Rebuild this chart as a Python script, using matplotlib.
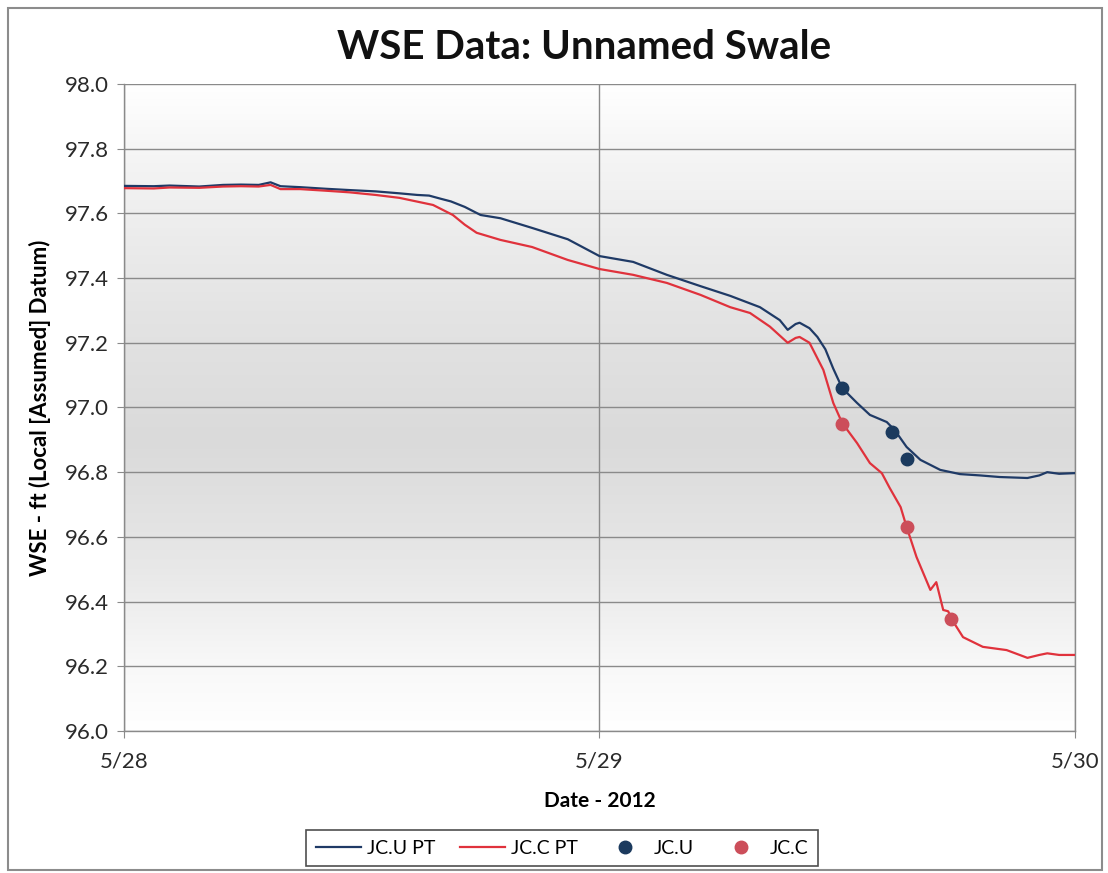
import numpy as np
import matplotlib
matplotlib.use("Agg")
import matplotlib.pyplot as plt
from matplotlib.colors import LinearSegmentedColormap
from matplotlib.patches import Rectangle

plt.rcParams['font.family'] = ['Lato', 'DejaVu Sans']

# Pressure-transducer records (hours after 5/28 00:00, WSE in ft)
ju_hours = [0, 1.5, 2.3, 3.8, 5.0, 5.9, 6.8, 7.4, 7.9, 8.9, 10.2, 11.4, 12.7, 13.9,
            14.8, 15.4, 16.0, 16.5, 17.2, 18.0, 19.0, 20.6, 22.4, 24.0, 25.7,
            27.4, 29.1, 30.6, 32.1, 33.1, 33.5, 33.9, 34.1, 34.6, 35.0, 35.4,
            35.8, 36.25, 37.0, 37.65, 38.5, 38.9, 39.5, 40.2, 41.2, 42.2,
            43.2, 44.2, 45.6, 46.2, 46.6, 47.2, 48.0]
ju_wse = [97.685, 97.684, 97.686, 97.683, 97.688, 97.689, 97.688, 97.696, 97.684,
          97.681, 97.676, 97.672, 97.668, 97.662, 97.657, 97.655, 97.645, 97.637,
          97.620, 97.595, 97.585, 97.555, 97.520, 97.468, 97.450, 97.410, 97.375,
          97.345, 97.310, 97.270, 97.240, 97.258, 97.262, 97.245, 97.218, 97.180,
          97.120, 97.060, 97.014, 96.977, 96.955, 96.930, 96.878, 96.838, 96.807,
          96.794, 96.790, 96.785, 96.782, 96.790, 96.800, 96.795, 96.797]

jc_hours = [0, 1.5, 2.3, 3.8, 5.0, 5.9, 6.8, 7.4, 7.9, 8.9, 10.2, 11.4, 12.7, 13.9,
            15.6, 16.6, 17.2, 17.8, 19.0, 20.6, 22.4, 24.0, 25.7, 27.4, 29.1,
            30.6, 31.6, 32.6, 33.5, 33.9, 34.1, 34.6, 35.3, 35.8, 36.25, 37.0,
            37.65, 38.25, 38.65, 39.2, 39.5, 40.0, 40.7, 41.0, 41.35, 41.6, 41.8,
            42.35, 43.35, 44.55, 45.6, 46.2, 46.6, 47.2, 48.0]
jc_wse = [97.678, 97.677, 97.680, 97.679, 97.683, 97.684, 97.683, 97.688, 97.675,
          97.675, 97.670, 97.665, 97.657, 97.648, 97.626, 97.595, 97.565, 97.540,
          97.518, 97.496, 97.456, 97.428, 97.410, 97.385, 97.348, 97.310, 97.292,
          97.250, 97.200, 97.215, 97.218, 97.200, 97.116, 97.014, 96.952, 96.890,
          96.828, 96.797, 96.751, 96.692, 96.631, 96.538, 96.436, 96.460, 96.374,
          96.370, 96.343, 96.290, 96.260, 96.250, 96.226, 96.235, 96.240, 96.235,
          96.235]

# Manual survey shots
ju_obs_hours = [36.25, 38.75, 39.5]
ju_obs_wse = [97.06, 96.925, 96.84]
jc_obs_hours = [36.25, 39.5, 41.75]
jc_obs_wse = [96.95, 96.63, 96.345]

x_tick_hours = [0, 24, 48]
x_tick_labels = ['5/28', '5/29', '5/30']
y_ticks = [96.0, 96.2, 96.4, 96.6, 96.8, 97.0, 97.2, 97.4, 97.6, 97.8, 98.0]

fig = plt.figure(figsize=(11.08, 8.73), dpi=100)
fig.patch.set_facecolor('white')
fig.add_artist(Rectangle((0.007, 0.004), 0.988, 0.987, transform=fig.transFigure,
                         fill=False, edgecolor='#8c8c8c', linewidth=1.5))

ax = fig.add_axes([0.1119, 0.1627, 0.8583, 0.7411])

# vertical gradient fill of the plot area
grad = LinearSegmentedColormap.from_list(
    'bg', [(0.0, '#ffffff'), (0.12, '#f4f4f4'), (0.35, '#e4e4e4'),
           (0.55, '#dadada'), (0.75, '#e8e8e8'), (0.9, '#f8f8f8'), (1.0, '#ffffff')])
ax.imshow(np.linspace(0, 1, 256).reshape(-1, 1), cmap=grad, aspect='auto',
          extent=[0, 1, 0, 1], transform=ax.transAxes, zorder=0, origin='upper')

ax.set_xlim(0, 48)
ax.set_ylim(96.0, 98.0)
ax.set_yticks(y_ticks)
ax.set_yticklabels([f'{v:.1f}' for v in y_ticks])
ax.set_xticks(x_tick_hours)
ax.set_xticklabels(x_tick_labels)

ax.grid(True, color='#8a8a8a', linewidth=1.0, zorder=1)
for s in ax.spines.values():
    s.set_color('#8a8a8a')
    s.set_linewidth(1.0)
ax.spines['top'].set_visible(False)

ax.tick_params(axis='y', length=5, color='#8a8a8a', labelsize=16, labelcolor='#2a2a2a', pad=6)
ax.tick_params(axis='x', length=5, color='#8a8a8a', labelsize=16, labelcolor='#2a2a2a', pad=10)

ax.plot(ju_hours, ju_wse, color='#1f3a66', linewidth=1.6, label='JC.U PT', zorder=3)
ax.plot(jc_hours, jc_wse, color='#e0323c', linewidth=1.6, label='JC.C PT', zorder=3)
ax.plot(ju_obs_hours, ju_obs_wse, 'o', color='#1b3a5e', markersize=9, label='JC.U', zorder=4)
ax.plot(jc_obs_hours, jc_obs_wse, 'o', color='#cc4e5a', markersize=9, label='JC.C', zorder=4)

ax.set_ylabel('WSE - ft (Local [Assumed] Datum)', fontsize=16, fontweight='bold', labelpad=10)
ax.set_xlabel('Date - 2012', fontsize=15, fontweight='bold', labelpad=14)
fig.text(0.527, 0.946, 'WSE Data: Unnamed Swale', ha='center', va='center',
         fontsize=29, fontweight='bold', color='#111111')

leg = ax.legend(loc='upper center', bbox_to_anchor=(0.4606, -0.138), ncol=4,
                frameon=True, fancybox=False, edgecolor='#222222', fontsize=14,
                handlelength=2.3, handletextpad=0.3, columnspacing=1.3,
                borderpad=0.5)
leg.get_frame().set_linewidth(1.2)

fig.savefig('out.png', dpi=100)
